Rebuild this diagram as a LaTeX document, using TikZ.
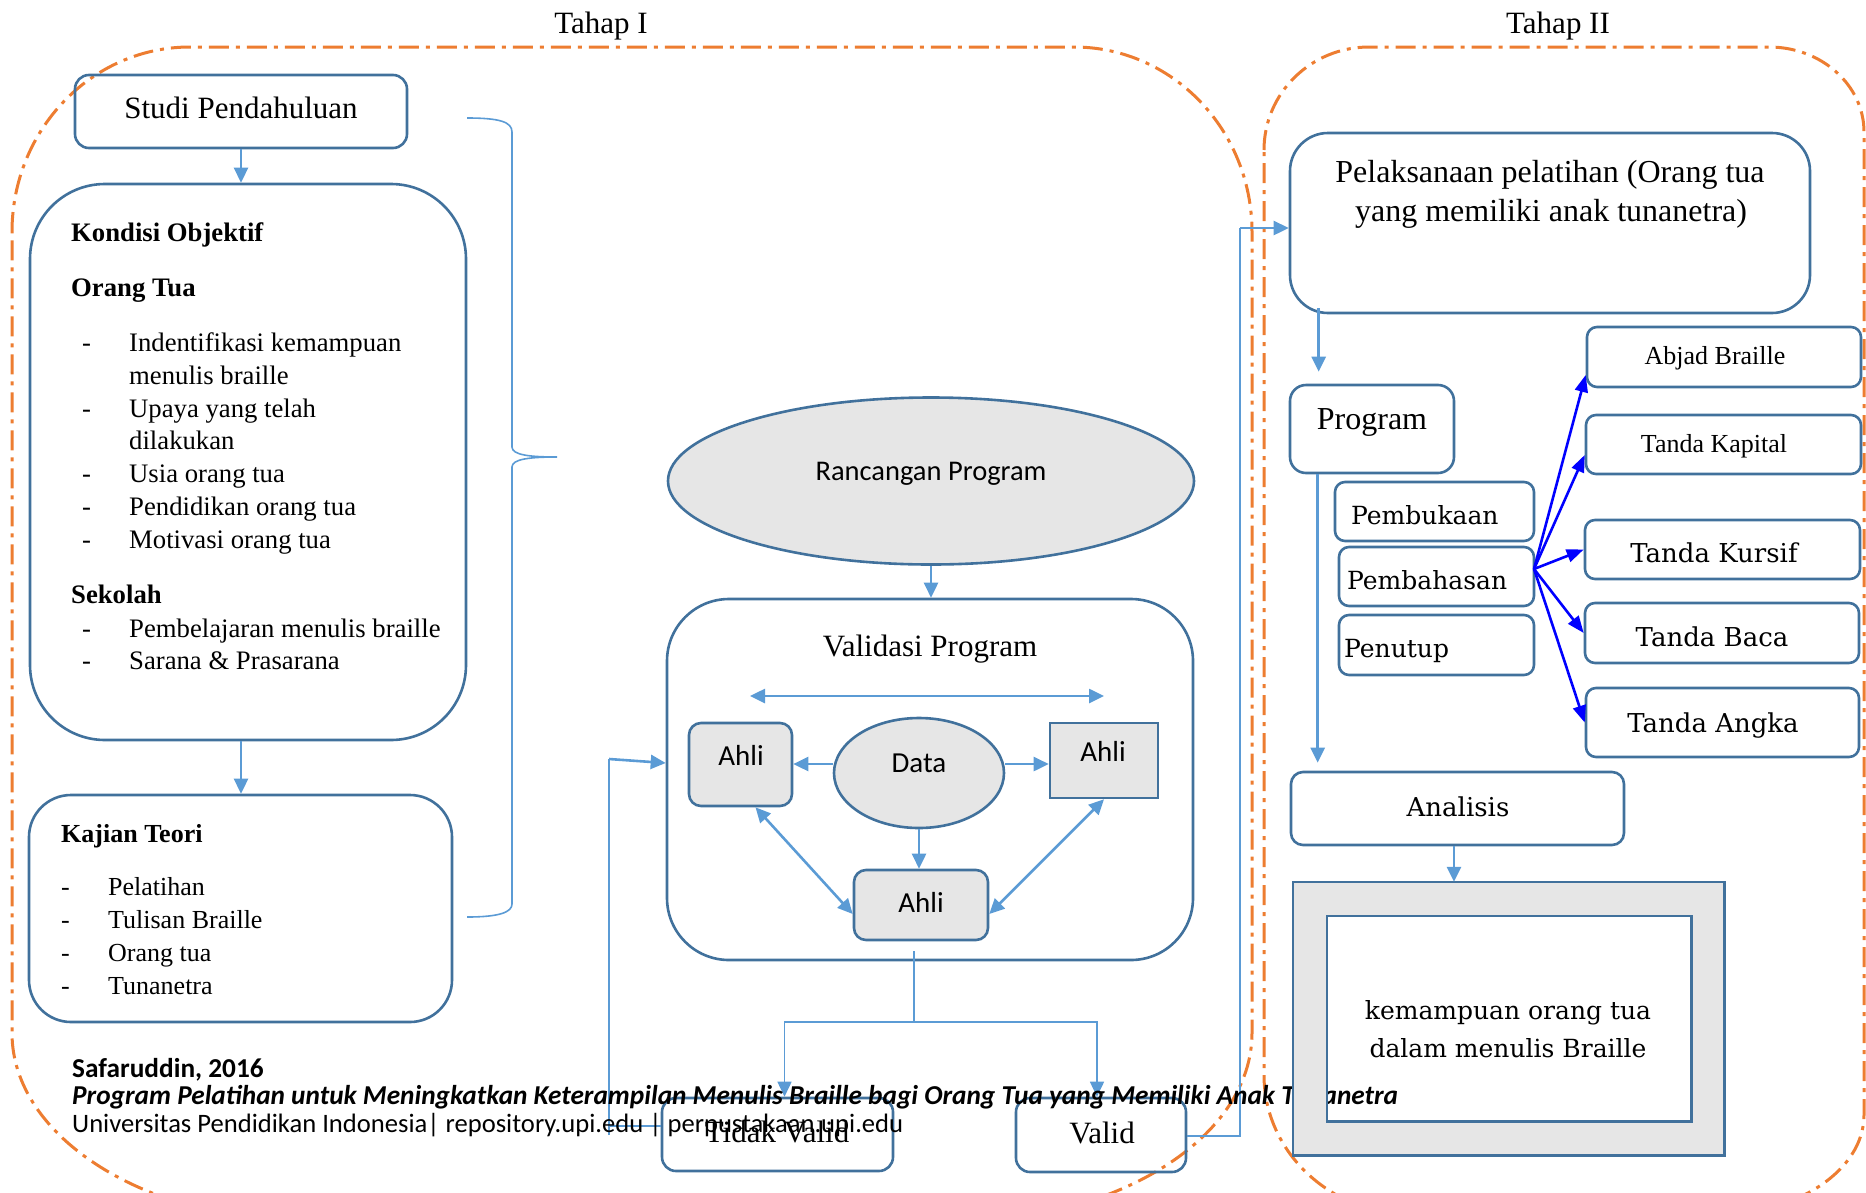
\documentclass[tikz,border=0pt]{standalone}
\usepackage{fontspec}
\setmainfont{Liberation Serif}
\newfontfamily\calib{Carlito}
\newfontfamily\cent{DejaVu Serif}
\usetikzlibrary{arrows.meta,shapes.geometric,fit,calc}
\definecolor{boxblue}{RGB}{65,113,156}
\definecolor{arrblue}{RGB}{91,155,213}
\definecolor{orng}{RGB}{237,125,49}
\definecolor{gfill}{RGB}{230,230,230}
\definecolor{pblue}{RGB}{0,0,255}
\newcommand\fs[1]{\fontsize{#1}{#1}\selectfont}
\begin{document}
\begin{tikzpicture}[x=1pt,y=-1pt,
 box/.style={draw=boxblue,line width=2.6pt,inner sep=0pt},
 gbox/.style={box,fill=gfill},
 arr/.style={draw=arrblue,line width=2.6pt,-{Triangle[length=15pt,width=14pt]}},
 arrt/.style={draw=arrblue,line width=1.6pt,-{Triangle[length=15pt,width=14pt]}},
 darr/.style={draw=arrblue,line width=2.6pt,{Triangle[length=15pt,width=14pt]}-{Triangle[length=15pt,width=14pt]}},
 thinl/.style={draw=arrblue,line width=1.6pt},
 barr/.style={draw=pblue,line width=2.6pt,-{Triangle[length=17pt,width=13pt]}},
 orl/.style={draw=orng,line width=3pt,dash pattern=on 20pt off 7pt on 4pt off 7pt},
 lt/.style={inner sep=0pt,anchor=base west},
 ct/.style={inner sep=0pt,anchor=base},
]
\useasboundingbox (0,0) rectangle (1866,1192);
\clip (0,0) rectangle (1866,1192);

% stage regions
\draw[orl] (12,232) arc[start angle=180,end angle=270,x radius=178,y radius=185] -- (1074,47)
  arc[start angle=270,end angle=360,x radius=178,y radius=185] -- (1252,1033)
  arc[start angle=0,end angle=90,x radius=300,y radius=189] -- (312,1222)
  arc[start angle=90,end angle=180,x radius=300,y radius=189] -- cycle;
\draw[orl] (1264,150) arc[start angle=180,end angle=270,x radius=105,y radius=103] -- (1769,47)
  arc[start angle=270,end angle=360,x radius=95,y radius=85] -- (1864,1115)
  arc[start angle=0,end angle=90,x radius=150,y radius=100] -- (1414,1215)
  arc[start angle=90,end angle=180,x radius=150,y radius=140] -- cycle;

\node[ct,font=\fs{31}] (t1) at (601,33) {Tahap I};
\node[ct,font=\fs{31}] (t2) at (1558,33) {Tahap II};

% left column
\node[box,rounded corners=14pt,fit={(75,75) (407,148)}] (studi) {};
\node[ct,font=\fs{31}] (studiT) at (241,118) {Studi Pendahuluan};

\node[box,rounded corners=75pt,fit={(30,184) (466,740)}] (kond) {};
\begin{scope}[every node/.style={lt,font=\fs{26.7}}]
\node[font=\fs{26.7}\bfseries] (k1) at (71,241) {Kondisi Objektif};
\node[font=\fs{26.7}\bfseries] (k2) at (71,296) {Orang Tua};
\node (d1) at (82,351) {-}; \node (k3) at (129,351) {Indentifikasi kemampuan};
\node (k4) at (129,384) {menulis braille};
\node (d2) at (82,417) {-}; \node (k5) at (129,417) {Upaya yang telah};
\node (k6) at (129,449) {dilakukan};
\node (d3) at (82,482) {-}; \node (k7) at (129,482) {Usia orang tua};
\node (d4) at (82,515) {-}; \node (k8) at (129,515) {Pendidikan orang tua};
\node (d5) at (82,548) {-}; \node (k9) at (129,548) {Motivasi orang tua};
\node[font=\fs{26.7}\bfseries] (k10) at (71,603) {Sekolah};
\node (d6) at (82,637) {-}; \node (k11) at (129,637) {Pembelajaran menulis braille};
\node (d7) at (82,669) {-}; \node (k12) at (129,669) {Sarana \& Prasarana};
\end{scope}

\node[box,rounded corners=42pt,fit={(29,795) (452,1022)}] (kaj) {};
\begin{scope}[every node/.style={lt,font=\fs{26}}]
\node[font=\fs{26}\bfseries] (j1) at (61,842) {Kajian Teori};
\node (e1) at (61,895) {-}; \node (j2) at (108,895) {Pelatihan};
\node (e2) at (61,928) {-}; \node (j3) at (108,928) {Tulisan Braille};
\node (e3) at (61,961) {-}; \node (j4) at (108,961) {Orang tua};
\node (e4) at (61,994) {-}; \node (j5) at (108,994) {Tunanetra};
\end{scope}

\draw[arr] (studi.south) -- (studi.south |- kond.north);
\draw[arr] (kond.south -| studi.south) -- (kaj.north -| studi.south);

% brace
\draw[draw=arrblue,line width=1.6pt] (467,118) .. controls (500,118) and (512,122) .. (512,132) -- (512,447)
  .. controls (512,455) and (530,457) .. (557,457) .. controls (530,457) and (512,459) .. (512,467)
  -- (512,904) .. controls (512,912) and (500,917) .. (467,917);

% middle column
\node[ellipse,gbox,minimum width=526pt,minimum height=167pt] (ranc) at (931,481) {};
\node[ct,font=\calib\fs{28.5}] (rancT) at (931,480) {Rancangan Program};

\node[box,rounded corners=62pt,fit={(667,599) (1193,960)}] (vp) {};
\node[ct,font=\fs{31}] (vpT) at (930,656) {Validasi Program};
\draw[arr] (ranc.south) -- (ranc.south |- vp.north);

\coordinate (hl) at (750,696);
\coordinate (hr) at (1104,696);
\draw[darr] (hl) -- (hr);

\node[gbox,rounded corners=12pt,fit={(689,723) (792,806)}] (ahL) {};
\node[ellipse,gbox,minimum width=170pt,minimum height=110pt] (data) at (919,773) {};
\node[gbox,fit={(1050,723) (1158,798)}] (ahR) {};
\node[gbox,rounded corners=12pt,fit={(854,870) (988,940)}] (ahB) {};
\begin{scope}[every node/.style={ct,font=\calib\fs{29}}]
\node (ahLT) at (741,765) {Ahli};
\node (dataT) at (919,772) {Data};
\node (ahRT) at (1103,761) {Ahli};
\node (ahBT) at (921,912) {Ahli};
\end{scope}
\draw[arr] (data.west |- 0,764) -- (ahL.east |- 0,764);
\draw[arr] (data.east |- 0,764) -- (ahR.west |- 0,764);
\draw[arr] (data.south) -- (data.south |- ahB.north);
\draw[darr] ($(ahL.south)+(15,0)$) -- (ahB.west |- 0,914);
\draw[darr] (ahR.south) -- (ahB.east |- 0,914);

\node[box,rounded corners=14pt,fit={(662,1098) (893,1171)}] (tv) {};
\node[box,rounded corners=14pt,fit={(1016,1098) (1186,1172)}] (val) {};
\node[ct,font=\fs{31}] (tvT) at (777,1142) {Tidak Valid};
\node[ct,font=\fs{31}] (valT) at (1102,1143) {Valid};

\coordinate (vb) at (914,1022);
\draw[thinl] ($(vp.south)+(-16,-10)$) -- (vb);
\draw[arrt] (vb) -| ($(tv.north)+(7,0)$);
\draw[arrt] (vb) -| ($(val.north)+(-4,0)$);

\coordinate (fb0) at (609,1135);
\coordinate (fb1) at (609,1126);
\coordinate (fb2) at (609,759);
\draw[thinl] (tv.west |- fb1) -- (fb1);
\draw[thinl] (fb0) -- (fb2);
\draw[arr] (fb2) -- (vp.west |- 0,763);

% right column
\node[box,rounded corners=38pt,fit={(1290,133) (1810,313)}] (pel) {};
\node[ct,font=\fs{32}] (pel1) at (1550,182) {Pelaksanaan pelatihan (Orang tua};
\node[ct,font=\fs{32}] (pel2) at (1551,221) {yang memiliki anak tunanetra)};

\coordinate (v1) at (1240,1136);
\coordinate (v2) at (1240,228);
\draw[thinl] (val.east |- v1) -- (v1) -- (v2);
\draw[arr] (v2) -- (pel.west |- v2);

\node[box,rounded corners=16pt,fit={(1290,385) (1454,473)}] (prog) {};
\node[ct,font=\fs{32}] (progT) at (1372,429) {Program};
\draw[arr] ($(pel.south west)+(30,-6)$) -- ($(prog.north west)+(30,-12)$);

\node[box,rounded corners=10pt,fit={(1335,482) (1534,541)}] (pbk) {};
\node[box,rounded corners=10pt,fit={(1339,547) (1534,606)}] (pbh) {};
\node[box,rounded corners=10pt,fit={(1339,615) (1534,675)}] (ptp) {};
\node[lt,font=\cent\fs{25}] (pbkT) at (1351,524) {Pembukaan};
\node[lt,font=\cent\fs{25}] (pbhT) at (1347,589) {Pembahasan};
\node[lt,font=\cent\fs{25}] (ptpT) at (1344,657) {Penutup};

\node[box,rounded corners=10pt,fit={(1587,327) (1861,387)}] (abj) {};
\node[box,rounded corners=10pt,fit={(1586,415) (1861,474)}] (kap) {};
\node[box,rounded corners=10pt,fit={(1585,520) (1860,579)}] (kur) {};
\node[box,rounded corners=10pt,fit={(1585,603) (1859,663)}] (bac) {};
\node[box,rounded corners=10pt,fit={(1586,688) (1859,757)}] (ang) {};
\node[ct,font=\fs{26}] (abjT) at (1715,364) {Abjad Braille};
\node[ct,font=\fs{26}] (kapT) at (1714,452) {Tanda Kapital};
\node[ct,font=\cent\fs{26}] (kurT) at (1714,562) {Tanda Kursif};
\node[ct,font=\cent\fs{26}] (bacT) at (1712,646) {Tanda Baca};
\node[ct,font=\cent\fs{26}] (angT) at (1713,732) {Tanda Angka};

\coordinate (po) at (1534,569);
\draw[barr] (po) -- (abj.west |- 0,375);
\draw[barr] (po) -- (kap.west |- 0,455);
\draw[barr] (po) -- (kur.west);
\draw[barr] (po) -- (bac.west);
\draw[barr] (po) -- (ang.west);

\node[box,rounded corners=12pt,fit={(1291,772) (1624,845)}] (ana) {};
\node[ct,font=\cent\fs{26}] (anaT) at (1458,816) {Analisis};
\draw[arr] ($(prog.south west)+(29,0)$) -- ($(ana.north west)+(28,-8)$);

% footer
\node[lt,font=\calib\fs{27.3}\bfseries] (f1) at (72,1077) {Safaruddin, 2016};
\node[lt,font=\calib\fs{27.3}\bfseries\itshape] (f2) at (72,1104) {Program Pelatihan untuk Meningkatkan Keterampilan Menulis Braille bagi Orang Tua yang Memiliki Anak Tunanetra};
\node[lt,font=\calib\fs{26.6}] (f3) at (72,1132) {Universitas Pendidikan Indonesia| repository.upi.edu | perpustakaan.upi.edu};

% result frame
\node[inner sep=0pt,fit={(1293,882) (1724,1155)}] (outer) {};
\node[inner sep=0pt,fit={(1327,916) (1691,1121)}] (inner) {};
\fill[gfill,even odd rule] (outer.north west) rectangle (outer.south east) (inner.north west) rectangle (inner.south east);
\draw[boxblue,line width=2.6pt] (outer.north west) rectangle (outer.south east);
\draw[boxblue,line width=2.6pt] (inner.north west) rectangle (inner.south east);
\node[ct,font=\cent\fs{25}] (res1) at (1508,1019) {kemampuan orang tua};
\node[ct,font=\cent\fs{25}] (res2) at (1508,1057) {dalam menulis Braille};
\draw[arr] (ana.south -| 1454,0) -- (outer.north -| 1454,0);
\end{tikzpicture}
\end{document}
